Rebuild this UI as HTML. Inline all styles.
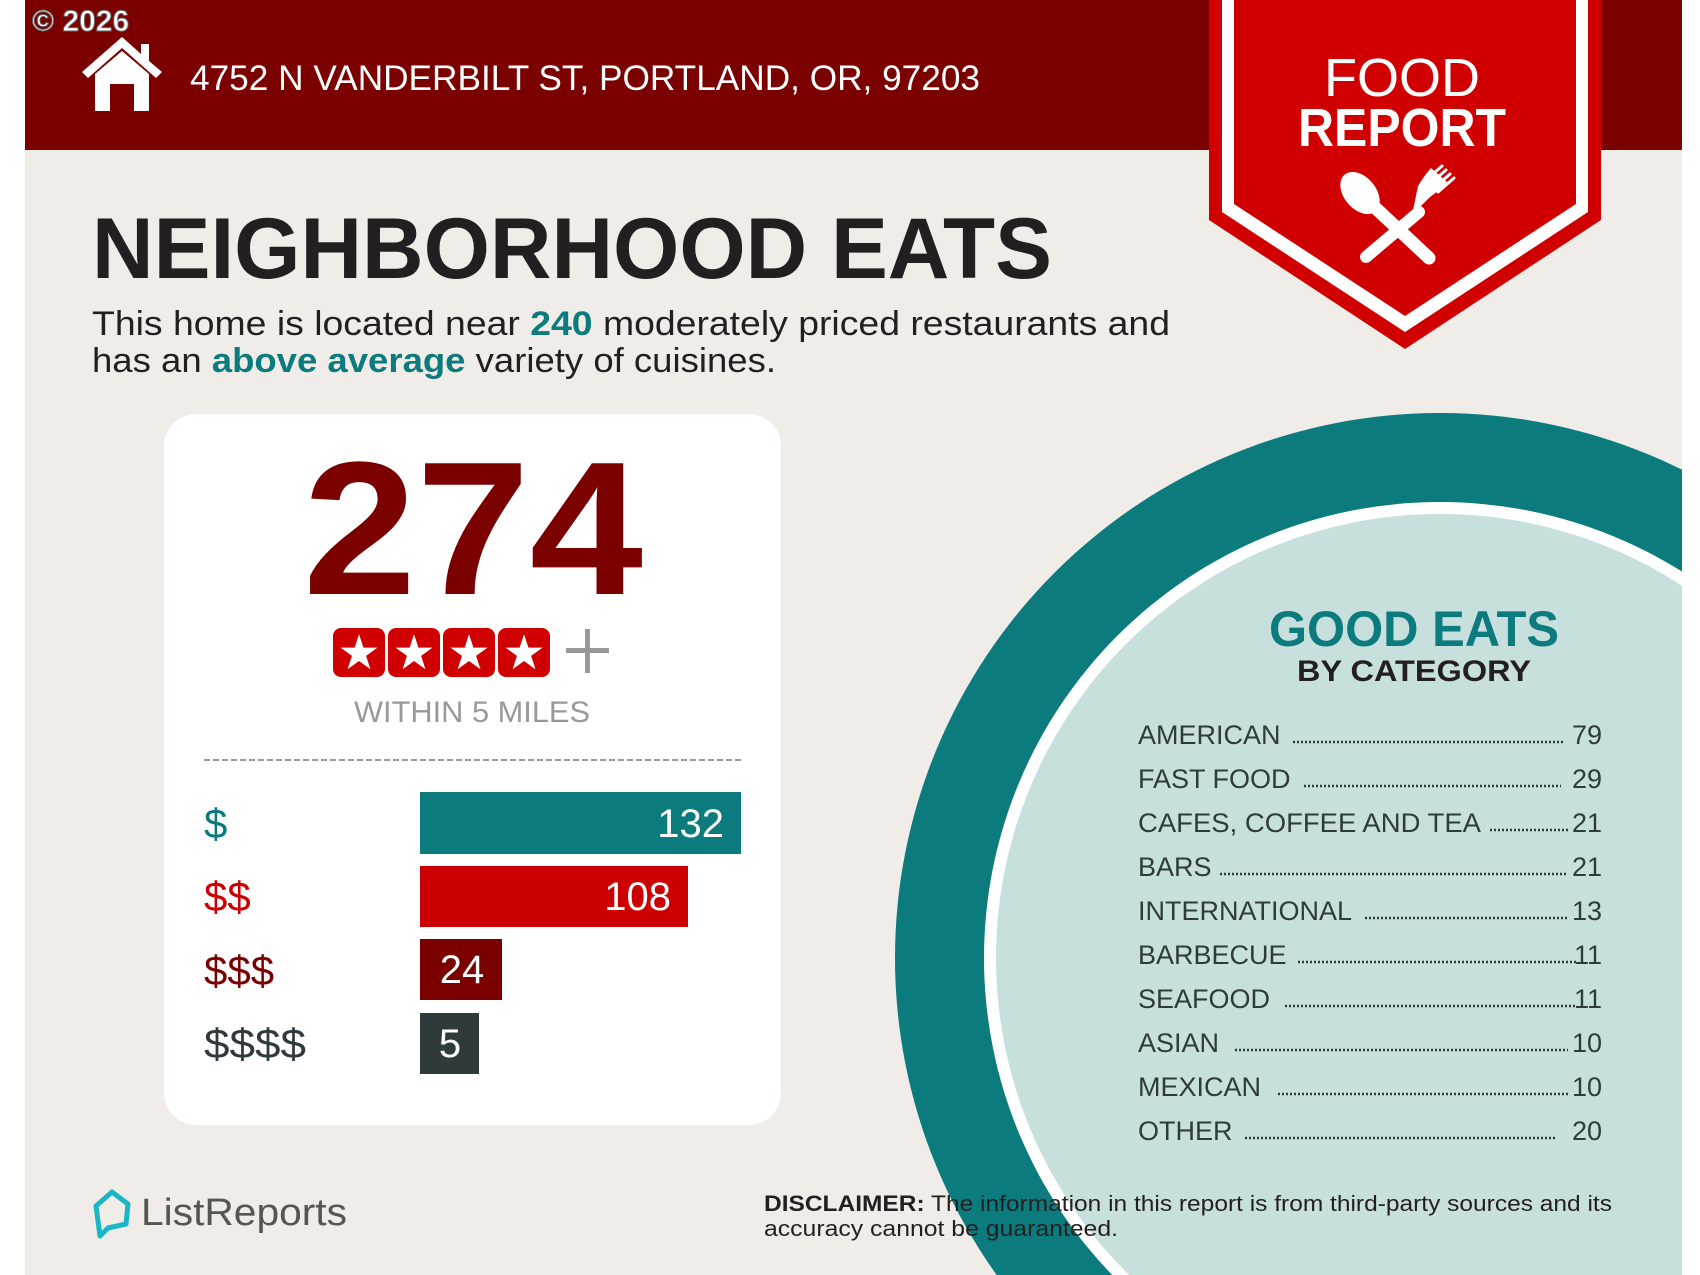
<!DOCTYPE html>
<html><head><meta charset="utf-8"><style>
html,body{margin:0;padding:0;background:#fff;width:1700px;height:1275px;overflow:hidden;}
svg{display:block;}
text{font-family:"Liberation Sans",sans-serif;}
</style></head><body>
<svg width="1700" height="1275" viewBox="0 0 1700 1275" xmlns="http://www.w3.org/2000/svg">
<defs><clipPath id="pg"><rect x="25" y="0" width="1657" height="1275"/></clipPath></defs>
<rect x="0" y="0" width="1700" height="1275" fill="#fff"/>
<rect x="25" y="0" width="1657" height="1275" fill="#f0ece8"/>
<rect x="25" y="0" width="1657" height="150" fill="#7b0000"/>
<g clip-path="url(#pg)">
<circle cx="1440" cy="958" r="545" fill="#0b7b7d"/>
<circle cx="1440" cy="958" r="456" fill="#ffffff"/>
<circle cx="1440" cy="958" r="444" fill="#c7e0de"/>
</g>
<polygon points="1209,0 1601,0 1601,220 1405,349 1209,220" fill="#d10000"/>
<polygon points="1222,0 1588,0 1588,212 1405,332 1222,212" fill="#fff"/>
<polygon points="1234,0 1576,0 1576,204 1405,316 1234,204" fill="#d10000"/>
<text x="1402" y="96" font-size="54" fill="#fff" text-anchor="middle" textLength="156" lengthAdjust="spacingAndGlyphs">FOOD</text>
<text x="1402" y="146" font-size="54" font-weight="bold" fill="#fff" text-anchor="middle" textLength="208" lengthAdjust="spacingAndGlyphs">REPORT</text>
<g fill="#fff" stroke="#fff">
<line x1="1367" y1="200" x2="1429" y2="258" stroke-width="13" stroke-linecap="round"/>
<ellipse cx="1360" cy="193" rx="16" ry="24" transform="rotate(-40 1360 193)" stroke="none"/>
<line x1="1366" y1="257" x2="1419" y2="212" stroke-width="12" stroke-linecap="round"/>
<path d="M1412,215 L1430,197 Q1440,190 1447,182 L1431,168 Q1424,176 1418,186 Z" stroke="none"/>
<g stroke-width="3" stroke-linecap="round">
<line x1="1430" y1="184" x2="1446" y2="170"/>
<line x1="1434" y1="188" x2="1450" y2="174"/>
<line x1="1438" y1="192" x2="1454" y2="178"/>
<line x1="1426" y1="180" x2="1442" y2="166"/>
</g>
</g>
<text x="32" y="31" font-size="30" font-weight="bold" fill="#fff" stroke="#666" stroke-width="1">© 2026</text>
<g fill="#fff">
<polygon points="122,37 82,72 88,78 122,48 156,78 162,72 149,61 149,44 141,44 141,54"/>
<polygon points="95,74 122,51 149,74 149,111 134,111 134,84 110,84 110,111 95,111"/>
</g>
<text x="190" y="90" font-size="35" fill="#fff" textLength="790" lengthAdjust="spacingAndGlyphs">4752 N VANDERBILT ST, PORTLAND, OR, 97203</text>
<text x="92" y="278" font-size="86" font-weight="bold" fill="#231f20" textLength="960" lengthAdjust="spacingAndGlyphs">NEIGHBORHOOD EATS</text>
<text x="92" y="335" font-size="34" fill="#231f20" textLength="1078" lengthAdjust="spacingAndGlyphs">This home is located near <tspan fill="#0b7b7d" font-weight="bold">240</tspan> moderately priced restaurants and</text>
<text x="92" y="372" font-size="34" fill="#231f20" textLength="684" lengthAdjust="spacingAndGlyphs">has an <tspan fill="#0b7b7d" font-weight="bold">above average</tspan> variety of cuisines.</text>
<rect x="164" y="414" width="617" height="711" rx="32" fill="#fff"/>
<text x="473" y="594" font-size="190" font-weight="bold" fill="#7b0000" text-anchor="middle" textLength="340" lengthAdjust="spacingAndGlyphs">274</text>
<g>
<rect x="333" y="628" width="52" height="49" rx="8" fill="#d10000"/>
<rect x="388" y="628" width="52" height="49" rx="8" fill="#d10000"/>
<rect x="443" y="628" width="52" height="49" rx="8" fill="#d10000"/>
<rect x="498" y="628" width="52" height="49" rx="8" fill="#d10000"/>
<g fill="#fff" font-size="48" text-anchor="middle">
<text x="359" y="669">★</text><text x="414" y="669">★</text><text x="469" y="669">★</text><text x="524" y="669">★</text>
</g>
<rect x="585" y="629" width="5" height="44" fill="#999"/>
<rect x="566" y="648" width="43" height="5" fill="#999"/>
</g>
<text x="472" y="722" font-size="30" fill="#999" text-anchor="middle" textLength="236" lengthAdjust="spacingAndGlyphs">WITHIN 5 MILES</text>
<line x1="204" y1="760" x2="741" y2="760" stroke="#999" stroke-width="2" stroke-dasharray="6,3"/>
<rect x="420" y="792" width="321" height="62" fill="#0b7b7d"/>
<rect x="420" y="866" width="268" height="61" fill="#cc0000"/>
<rect x="420" y="939" width="82" height="61" fill="#7b0000"/>
<rect x="420" y="1013" width="59" height="61" fill="#2f3a3d"/>
<g font-size="42">
<text x="204" y="838" fill="#0b7b7d">$</text>
<text x="204" y="911" fill="#cc0000">$$</text>
<text x="204" y="985" fill="#7b0000">$$$</text>
<text x="204" y="1058" fill="#2f3a3d" textLength="102" lengthAdjust="spacingAndGlyphs">$$$$</text>
</g>
<g font-size="40" fill="#fff">
<text x="724" y="837" text-anchor="end">132</text>
<text x="671" y="910" text-anchor="end">108</text>
<text x="462" y="983" text-anchor="middle">24</text>
<text x="450" y="1057" text-anchor="middle">5</text>
</g>
<text x="1414" y="646" font-size="50" font-weight="bold" fill="#0b7b7d" text-anchor="middle" textLength="290" lengthAdjust="spacingAndGlyphs">GOOD EATS</text>
<text x="1414" y="681" font-size="30" font-weight="bold" fill="#231f20" text-anchor="middle" textLength="234" lengthAdjust="spacingAndGlyphs">BY CATEGORY</text>
<g font-size="27" fill="#2f3a3d">
<text x="1138" y="744">AMERICAN</text><text x="1602" y="744" text-anchor="end">79</text>
<text x="1138" y="788">FAST FOOD</text><text x="1602" y="788" text-anchor="end">29</text>
<text x="1138" y="832" textLength="343" lengthAdjust="spacingAndGlyphs">CAFES, COFFEE AND TEA</text><text x="1602" y="832" text-anchor="end">21</text>
<text x="1138" y="876">BARS</text><text x="1602" y="876" text-anchor="end">21</text>
<text x="1138" y="920">INTERNATIONAL</text><text x="1602" y="920" text-anchor="end">13</text>
<text x="1138" y="964">BARBECUE</text><text x="1602" y="964" text-anchor="end">11</text>
<text x="1138" y="1008">SEAFOOD</text><text x="1602" y="1008" text-anchor="end">11</text>
<text x="1138" y="1052">ASIAN</text><text x="1602" y="1052" text-anchor="end">10</text>
<text x="1138" y="1096">MEXICAN</text><text x="1602" y="1096" text-anchor="end">10</text>
<text x="1138" y="1140">OTHER</text><text x="1602" y="1140" text-anchor="end">20</text>
</g>
<g stroke="#2f3a3d" stroke-width="2.5" stroke-dasharray="2,2">
<line x1="1293" y1="742" x2="1563" y2="742"/>
<line x1="1304" y1="786" x2="1561" y2="786"/>
<line x1="1490" y1="830" x2="1568" y2="830"/>
<line x1="1220" y1="874" x2="1568" y2="874"/>
<line x1="1365" y1="918" x2="1568" y2="918"/>
<line x1="1298" y1="962" x2="1576" y2="962"/>
<line x1="1285" y1="1006" x2="1576" y2="1006"/>
<line x1="1235" y1="1050" x2="1568" y2="1050"/>
<line x1="1278" y1="1094" x2="1568" y2="1094"/>
<line x1="1245" y1="1138" x2="1557" y2="1138"/>
</g>
<path d="M96,1206 L112,1192 L128,1204 L126,1224 L108,1228 L100,1236 Z" fill="none" stroke="#1bb5c4" stroke-width="5" stroke-linejoin="round"/>
<text x="141" y="1225" font-size="38" fill="#555" textLength="206" lengthAdjust="spacingAndGlyphs">ListReports</text>
<text x="764" y="1211" font-size="22" fill="#231f20" textLength="848" lengthAdjust="spacingAndGlyphs"><tspan font-weight="bold">DISCLAIMER:</tspan> The information in this report is from third-party sources and its</text>
<text x="764" y="1236" font-size="22" fill="#231f20" textLength="354" lengthAdjust="spacingAndGlyphs">accuracy cannot be guaranteed.</text>
</svg>
</body></html>
